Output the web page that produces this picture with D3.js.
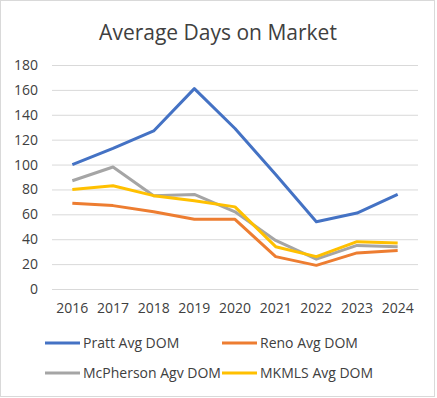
<!DOCTYPE html>
<html><head><meta charset="utf-8">
<script src="https://cdn.jsdelivr.net/npm/d3@7"></script>
<style>body{margin:0;background:#fff}svg{display:block}text{font-family:"Open Sans","Noto Sans",sans-serif;fill:#404040}</style>
</head><body><svg id="c" width="437" height="398"></svg>
<script>
const years = ["2016","2017","2018","2019","2020","2021","2022","2023","2024"];
const pratt = [100,113,127,161,129,92,54,61,76];
const reno = [69,67,62,56,56,26,19,29,31];
const mcpherson = [87,98,75,76,62,39,24,35,34];
const mkmls = [80,83,75,71,66,34,26,38,37];
const seriesNames = ["Pratt Avg DOM","Reno Avg DOM","McPherson Agv DOM","MKMLS Avg DOM"];
const colors = ["#4472C4","#ED7D31","#A5A5A5","#FFC000"];
const yTicks = [0,20,40,60,80,100,120,140,160,180];

const series = [pratt, reno, mcpherson, mkmls];
const svg = d3.select("#c");
svg.append("rect").attr("x",0.5).attr("y",0.5).attr("width",434).attr("height",396)
  .attr("fill","#fff").attr("stroke","#d9d9d9");
svg.append("text").attr("x",218).attr("y",40).attr("text-anchor","middle")
  .style("font-size","21px").text("Average Days on Market");

const x = d3.scaleBand().domain(years).range([52,418]);
const y = d3.scaleLinear().domain([0,180]).range([289,65]);

const gy = svg.append("g").attr("transform","translate(52,0)")
  .call(d3.axisLeft(y).tickValues(yTicks).tickSize(-366).tickPadding(14).tickFormat(d3.format("d")));
gy.select(".domain").remove();
gy.selectAll("line").attr("stroke","#d9d9d9");
gy.selectAll("text").style("font-size","14px").attr("fill","#404040");

const gx = svg.append("g").attr("transform","translate(0,289)")
  .call(d3.axisBottom(x).tickSize(0).tickPadding(14));
gx.select(".domain").attr("stroke","#d9d9d9");
gx.selectAll("text").style("font-size","14px").attr("fill","#404040");

const line = d3.line().x((d,i)=>x(years[i])+x.bandwidth()/2).y(d=>y(d));
series.forEach((s,i)=>{
  svg.append("path").datum(s).attr("d",line).attr("fill","none")
    .attr("stroke",colors[i]).attr("stroke-width",3).attr("stroke-linejoin","round");
});

const legPos = [[45,343],[222,343],[45,373],[222,373]];
seriesNames.forEach((n,i)=>{
  const [lx,ly]=legPos[i];
  svg.append("line").attr("x1",lx).attr("x2",lx+35).attr("y1",ly).attr("y2",ly)
    .attr("stroke",colors[i]).attr("stroke-width",3);
  svg.append("text").attr("x",lx+38).attr("y",ly).attr("dy","0.35em")
    .style("font-size","14px").text(n);
});
</script></body></html>
